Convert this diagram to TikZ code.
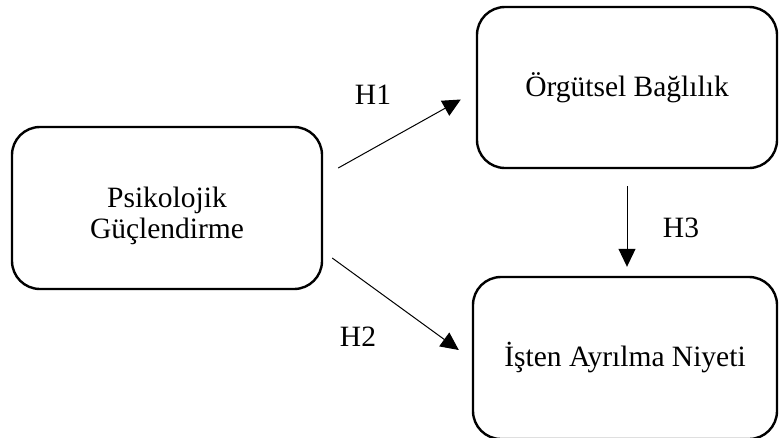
\documentclass[tikz,border=0pt]{standalone}
\usepackage{fontspec}
\setmainfont{Liberation Serif}
\usetikzlibrary{arrows.meta,calc}
\begin{document}
\begin{tikzpicture}[x=1pt,y=-1pt,
 box/.style={draw,line width=2.4pt,rounded corners=28pt,inner sep=0pt,align=center,font=\fontsize{29.5}{31}\selectfont},
 arr/.style={line width=1pt,-{Triangle[length=18pt,width=17pt]}},
 lbl/.style={inner sep=0pt,font=\fontsize{29.5}{31}\selectfont}]
\useasboundingbox (0,0) rectangle (779,437);
\node[box,minimum width=310pt,minimum height=162pt] (psi) at (167,208) {\rule{0pt}{36pt}Psikolojik\\Güçlendirme};
\node[box,minimum width=300pt,minimum height=161pt] (org) at (627,87.5) {Örgütsel Bağlılık};
\node[box,minimum width=304pt,minimum height=162pt] (ist) at (625,358) {İşten Ayrılma Niyeti};
\draw[arr] ($(psi.east)+(15,-40)$) -- ($(org.west)+(-15,12)$);
\draw[arr] ($(psi.east)+(9,50)$) -- ($(ist.west)+(-13,-8)$);
\draw[arr] ($(org.south)+(0,17)$) -- ($(ist.north)+(2,-9)$);
\node[lbl] (h1) at (373,95) {H1};
\node[lbl] (h2) at (358,337) {H2};
\node[lbl] (h3) at (681,228) {H3};
\end{tikzpicture}
\end{document}
